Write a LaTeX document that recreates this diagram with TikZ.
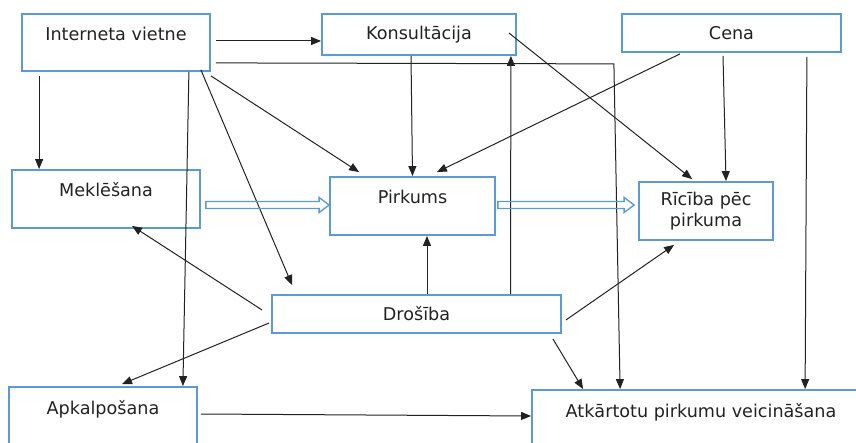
\documentclass[tikz,border=0pt]{standalone}
\usepackage{fontspec}
\setmainfont{DejaVu Sans}
\usetikzlibrary{arrows.meta,calc}
\definecolor{boxblue}{HTML}{5B9BD5}
\definecolor{ink}{HTML}{222222}
\tikzset{box/.style={draw=boxblue, line width=1.8pt, inner sep=0pt, text=ink,
        font=\fontsize{17.6}{21}\selectfont, align=center},
    tall/.style={text height=13pt, text depth=17pt},
    link/.style={draw=ink, line width=1pt, -{Triangle[length=10pt,width=8pt]}},
    flowline/.style={draw=boxblue, line width=1.4pt, line join=miter}}
\newcommand\flowarrow[2]{\draw[flowline] ($(#1)+(0,-3.5)$) -- ($(#2)+(-10,-3.5)$)
    -- ($(#2)+(-10,-7.5)$) -- (#2) -- ($(#2)+(-10,7.5)$) -- ($(#2)+(-10,3.5)$)
    -- ($(#1)+(0,3.5)$) -- cycle;}

\begin{document}
\begin{tikzpicture}[x=1pt, y=-1pt]
    \useasboundingbox (0,0) rectangle (856,443);
    \node[box, tall, minimum width=188pt, minimum height=57pt] (inet) at (116,42.5) {Interneta vietne};
    \node[box, minimum width=194pt, minimum height=41pt] (kons) at (419,34.5) {Konsultācija};
    \node[box, minimum width=219pt, minimum height=38pt] (cena) at (731.5,33) {Cena};
    \node[box, tall, minimum width=188pt, minimum height=58pt] (mek) at (106,199) {Meklēšana};
    \node[box, tall, minimum width=165pt, minimum height=58pt] (pirk) at (412.5,206) {Pirkums};
    \node[box, minimum width=134pt, minimum height=58pt] (ric) at (706,211) {Rīcība pēc\\pirkuma};
    \node[box, minimum width=289pt, minimum height=38pt] (dros) at (416.5,314) {Drošība};
    \node[box, tall, minimum width=188pt, minimum height=58pt] (apk) at (103,416) {Apkalpošana};
    \node[box, tall, minimum width=338pt, minimum height=58pt] (atk) at (701,419) {Atkārtotu pirkumu veicināšana};

    \draw[link] ($(inet.east)+(5,-1.5)$) -- ($(kons.west)+(0,6.5)$);
    \draw[link] ($(inet.south east)+(5,-9)$) -- ++(398,1) -- ($(atk.north west)+(89,0)$);
    \draw[link] ($(inet.south west)+(18,4)$) -- ($(mek.north west)+(28,0)$);
    \draw[link] ($(inet.south east)+(-22,0)$) -- ($(apk.north east)+(-15,0)$);
    \draw[link] ($(inet.south east)+(-10,-2)$) -- ($(dros.north west)+(21,-9)$);
    \draw[link] ($(inet.south east)+(0,4)$) -- ($(pirk.north west)+(30,-4)$);
    \draw[link] ($(kons.south)+(-8,0)$) -- (pirk.north);
    \draw[link] ($(dros.north)+(94,0)$) -- ($(kons.south east)+(-6,0)$);
    \draw[link] ($(kons.east)+(-8,-1.5)$) -- ($(ric.north west)+(54,-2)$);
    \draw[link] ($(cena.south)+(-51.5,1)$) -- ($(pirk.north east)+(-59,-4)$);
    \draw[link] ($(cena.south)+(-8.5,3)$) -- ($(ric.north)+(20,0)$);
    \draw[link] ($(cena.south east)+(-35,4)$) -- ($(atk.north west)+(274,0)$);
    \draw[link] ($(dros.north)+(10.5,0)$) -- ($(pirk.south)+(14.5,0)$);
    \draw[link] ($(dros.west)+(-9,-4)$) -- ($(mek.south)+(26,-3)$);
    \draw[link] ($(dros.west)+(-2,9)$) -- ($(apk.north)+(19,-2)$);
    \draw[link] ($(dros.east)+(4,6)$) -- ($(ric.south west)+(36,4)$);
    \draw[link] ($(dros.south east)+(-9,5)$) -- ($(atk.north west)+(52,0)$);
    \draw[link] ($(apk.east)+(3,-2)$) -- ($(atk.west)+(0,-3)$);

    \coordinate (mekout) at ($(mek.east)+(5,6)$);
    \coordinate (pirkin) at ($(pirk.west)+(0,-1)$);
    \coordinate (pirkout) at ($(pirk.east)+(2,-1)$);
    \coordinate (ricin) at ($(ric.west)+(-4,-6)$);
    \flowarrow{mekout}{pirkin}
    \flowarrow{pirkout}{ricin}
\end{tikzpicture}
\end{document}
